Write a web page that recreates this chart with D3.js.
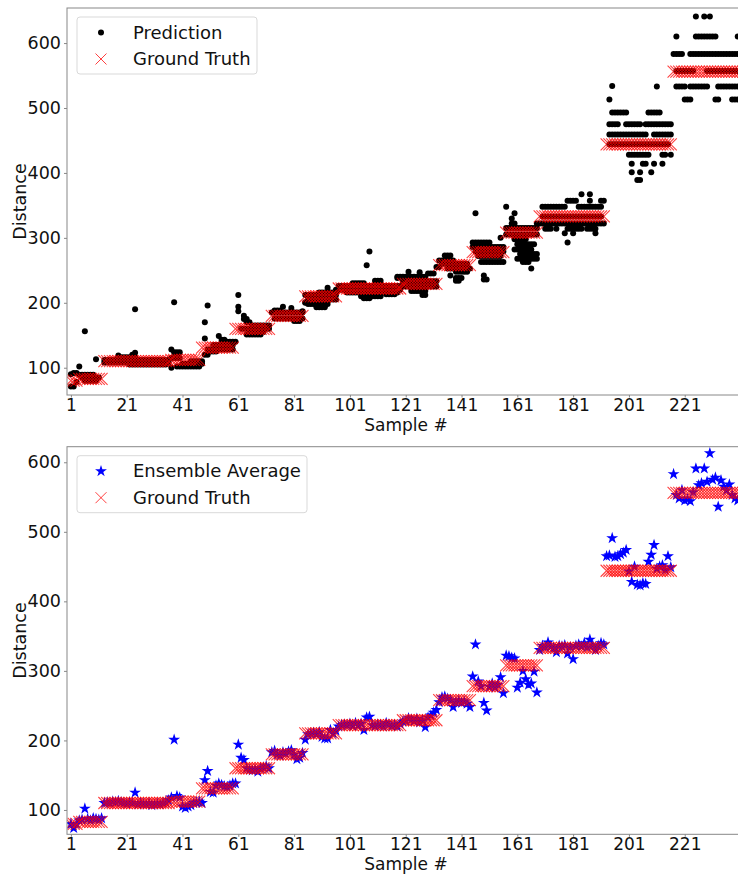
<!DOCTYPE html>
<html lang="en">
<head>
<meta charset="UTF-8">
<title>Prediction vs Ground Truth</title>
<script src="https://d3js.org/d3.v7.min.js"></script>
<style>
    body { margin: 0; background: #fff; }
    svg text { font-family: "DejaVu Sans", sans-serif; fill: #111; }
</style>
</head>
<body>
<svg width="738" height="874"></svg>
<script>

// tick labels
var xTicks = [1, 21, 41, 61, 81, 101, 121, 141, 161, 181, 201, 221];
var yTicks = [100, 200, 300, 400, 500, 600];

// ground truth as runs: [first sample, last sample, distance]
var gtRuns = [
    [1, 3, 80], [4, 12, 83], [13, 36, 110], [37, 47, 112], [48, 59, 131], [60, 72, 160],
    [73, 84, 180], [85, 96, 210], [97, 119, 222], [120, 132, 229], [133, 144, 258],
    [145, 156, 278], [157, 168, 308], [169, 192, 333], [193, 216, 444], [217, 242, 556]
];

// individual predictions as runs: [distance, first sample, last sample]
var predRuns = [
    [71,1,2],[90,1,1],[78,3,3],[92,2,3],[102,4,4],[156,6,6],[89,4,9],[85,5,11],[80,6,10],[113,10,10],
    [112,13,36],[108,13,36],[105,22,35],[116,18,24],[119,18,18],[120,23,23],[123,24,24],[190,24,24],
    [128,37,37],[100,37,37],[201,38,38],[124,38,40],[102,39,47],[106,41,48],[110,44,48],[115,37,40],
    [120,49,50],[145,49,49],[170,49,49],[196,50,50],[125,51,53],[128,50,59],[135,52,59],[149,54,54],[143,55,56],[140,57,60],
    [212,61,61],[194,61,61],[187,61,61],[180,63,63],[175,63,64],[170,64,65],[151,64,69],[155,65,70],[160,62,72],[165,66,72],
    [194,77,77],[192,80,80],[188,74,76],[185,73,84],[176,74,84],[172,81,83],[187,84,84],[200,85,85],
    [201,85,85],[193,89,92],[198,86,93],[205,86,96],[212,85,96],[216,90,96],[223,93,93],[196,92,92],
    [220,96,119],[226,97,119],[216,100,118],[230,102,106],[258,107,107],[279,108,108],[210,105,112],[207,106,108],[234,110,112],[238,118,118],[213,114,117],
    [225,120,132],[233,120,132],[240,118,128],[248,122,122],[247,126,126],[212,127,128],[218,123,128],[255,132,133],[245,129,131],
    [273,135,137],[265,133,138],[260,134,143],[253,136,144],[248,139,143],[242,137,137],[238,139,141],[234,139,140],
    [338,146,146],[293,145,151],[286,145,156],[279,146,156],[272,147,155],[263,148,156],[242,149,149],[236,149,150],[300,155,155],
    [348,157,157],[338,160,160],[330,159,159],[322,159,160],[315,157,168],[305,157,168],[298,160,164],[290,161,167],[282,160,166],[275,162,168],[268,161,168],[263,163,165],[253,166,166],
    [367,184,184],[367,187,187],[357,179,182],[357,187,187],[357,191,192],[348,170,178],[348,183,191],[333,170,191],[322,168,192],
    [314,171,173],[314,175,175],[314,179,184],[314,186,189],[307,178,178],[307,181,181],[307,189,189],[293,179,179],
    [534,195,195],[533,211,211],[513,194,194],[493,195,200],[493,208,212],[475,194,197],[475,200,205],[475,207,216],[459,194,207],[459,210,216],[444,194,215],
    [428,201,208],[428,213,214],[428,216,216],[414,202,202],[414,206,207],[414,210,210],[414,213,213],[401,202,202],[401,205,205],[401,209,209],[389,204,205],
    [641,225,225],[641,228,228],[641,230,230],[610,218,218],[610,225,232],[610,240,240],[583,217,220],[583,223,240],
    [557,218,224],[557,229,240],[533,218,221],[533,223,229],[533,233,240],[513,221,223],[513,232,233],[513,238,240]
];

// ensemble average, samples 1..240
var ensembleAvg = [
    80, 74, 80, 85, 86, 102, 87, 85, 88, 87, 86, 88,
    110, 111, 110, 112, 111, 113, 111, 110, 109, 111, 110, 125, 108, 110, 109, 108, 110, 107, 108, 109, 108, 110, 111, 114, 118, 201, 120, 118, 105, 103, 105, 107, 110, 111, 112,
    110, 143, 156, 126, 125, 135, 138, 136, 134, 133, 135, 138,
    138, 194, 175, 172, 160, 158, 157, 158, 155, 160, 161, 163, 160,
    183, 185, 180, 178, 183, 181, 184, 186, 180, 173, 175, 182,
    201, 209, 210, 211, 209, 212, 205, 203, 203, 215, 210, 214,
    220, 222, 223, 222, 224, 221, 225, 222, 224, 215, 233, 234, 222, 221, 223, 222, 220, 225, 223, 221, 222, 220, 224,
    227, 228, 232, 230, 228, 231, 226, 229, 219, 233, 236, 240, 244,
    255, 262, 263, 260, 258, 248, 255, 257, 254, 256, 253, 248,
    292, 338, 285, 278, 254, 243, 277, 282, 276, 280, 291, 268,
    322, 321, 319, 318, 276, 283, 300, 288, 280, 282, 299, 269,
    330, 336, 334, 341, 335, 333, 327, 336, 335, 337, 325, 334, 317, 336, 338, 335, 340, 334, 345, 337, 330, 336, 340, 338,
    465, 466, 491, 464, 465, 468, 470, 474, 443, 428, 450, 424, 423, 426, 425, 457, 467, 481, 447, 450, 452, 445, 465, 449,
    583, 553, 548, 560, 545, 547, 544, 557, 591, 567, 570, 591, 572, 613, 575, 578, 536, 574, 565, 560, 568, 553, 548, 545
];

// expand runs into points
var gtPoints = [];
gtRuns.forEach(function (r) {
    for (var s = r[0]; s <= r[1]; s++) gtPoints.push([s, r[2]]);
});
var predPoints = [];
predRuns.forEach(function (r) {
    for (var s = r[1]; s <= r[2]; s++) predPoints.push([s, r[0]]);
});
var avgPoints = ensembleAvg.map(function (v, i) { return [i + 1, v]; });

var svg = d3.select('svg');
var left = 67, right = 745;
var fs = 17.5;

var xScale = d3.scaleLinear().domain([-0.4, 242.6]).range([left, right]);

var xPath = 'M-6,-6L6,6M-6,6L6,-6';
var starPath = d3.symbol().type(d3.symbolStar).size(44)();

function panel(id, top, bottom, yDomain, drawMarks, legendItems, legendW) {
    var y = d3.scaleLinear().domain(yDomain).range([bottom, top]);

    svg.append('clipPath').attr('id', id)
        .append('rect').attr('x', left).attr('y', top)
        .attr('width', right - left).attr('height', bottom - top);

    var g = svg.append('g').attr('clip-path', 'url(#' + id + ')');
    drawMarks(g, y);

    // ground truth on top
    g.selectAll('path.gt')
        .data(gtPoints)
        .enter()
        .append('path')
        .attr('class', 'gt')
        .attr('d', xPath)
        .attr('transform', function (d) { return 'translate(' + xScale(d[0]) + ',' + y(d[1]) + ')'; })
        .attr('fill', 'none')
        .attr('stroke', '#ff0000')
        .attr('stroke-width', 1.1)
        .attr('stroke-opacity', 0.75);

    // spines
    svg.append('rect')
        .attr('x', left).attr('y', top)
        .attr('width', right - left).attr('height', bottom - top)
        .attr('fill', 'none').attr('stroke', '#888').attr('stroke-width', 1);

    var axX = svg.append('g')
        .attr('transform', 'translate(0,' + bottom + ')')
        .call(d3.axisBottom(xScale).tickValues(xTicks).tickSize(2.5).tickPadding(1));
    var axY = svg.append('g')
        .attr('transform', 'translate(' + left + ',0)')
        .call(d3.axisLeft(y).tickValues(yTicks).tickSize(3).tickPadding(3));
    axX.selectAll('text').attr('font-size', 17);
    axY.selectAll('text').attr('font-size', fs);
    [axX, axY].forEach(function (a) {
        a.select('.domain').remove();
        a.selectAll('line').attr('stroke', '#888');
        a.selectAll('text').attr('fill', '#111')
            .attr('font-family', '"DejaVu Sans", sans-serif');
    });

    svg.append('text')
        .attr('x', (left + right) / 2).attr('y', bottom + 35.5)
        .attr('text-anchor', 'middle').attr('font-size', 17)
        .text('Sample #');
    svg.append('text')
        .attr('transform', 'translate(26,' + (top + bottom) / 2 + ') rotate(-90)')
        .attr('text-anchor', 'middle').attr('font-size', fs)
        .text('Distance');

    // legend
    var lg = svg.append('g').attr('transform', 'translate(77,' + (top + 9) + ')');
    lg.append('rect')
        .attr('width', legendW).attr('height', 57).attr('rx', 3)
        .attr('fill', '#fff').attr('fill-opacity', 0.8)
        .attr('stroke', '#d9d9d9').attr('stroke-width', 1);
    legendItems.forEach(function (it, i) {
        var cy = 15.5 + i * 26.5;
        it.mark(lg.append('g').attr('transform', 'translate(24,' + cy + ')'));
        lg.append('text')
            .attr('x', 56).attr('y', cy)
            .attr('dy', '0.35em').attr('font-size', 18)
            .text(it.label);
    });
}

function gtLegend(g) {
    g.append('path').attr('d', 'M-5.5,-5.5L5.5,5.5M-5.5,5.5L5.5,-5.5')
        .attr('fill', 'none').attr('stroke', '#ff0000').attr('stroke-opacity', 0.75).attr('stroke-width', 1);
}

// top panel: all predictions
panel('clipTop', 8, 395, [58, 654], function (g, y) {
    g.selectAll('circle')
        .data(predPoints)
        .enter()
        .append('circle')
        .attr('cx', function (d) { return xScale(d[0]); })
        .attr('cy', function (d) { return y(d[1]); })
        .attr('r', 3)
        .attr('fill', '#000');
}, [
    { label: 'Prediction', mark: function (g) { g.append('circle').attr('r', 3).attr('fill', '#000'); } },
    { label: 'Ground Truth', mark: gtLegend }
], 180);

// bottom panel: ensemble average
panel('clipBottom', 446.7, 834.3, [65, 622.4], function (g, y) {
    g.selectAll('path.star')
        .data(avgPoints)
        .enter()
        .append('path')
        .attr('class', 'star')
        .attr('d', starPath)
        .attr('transform', function (d) { return 'translate(' + xScale(d[0]) + ',' + y(d[1]) + ')'; })
        .attr('fill', '#0000ff');
}, [
    { label: 'Ensemble Average', mark: function (g) { g.append('path').attr('d', starPath).attr('fill', '#0000ff'); } },
    { label: 'Ground Truth', mark: gtLegend }
], 230);

</script>
</body>
</html>
